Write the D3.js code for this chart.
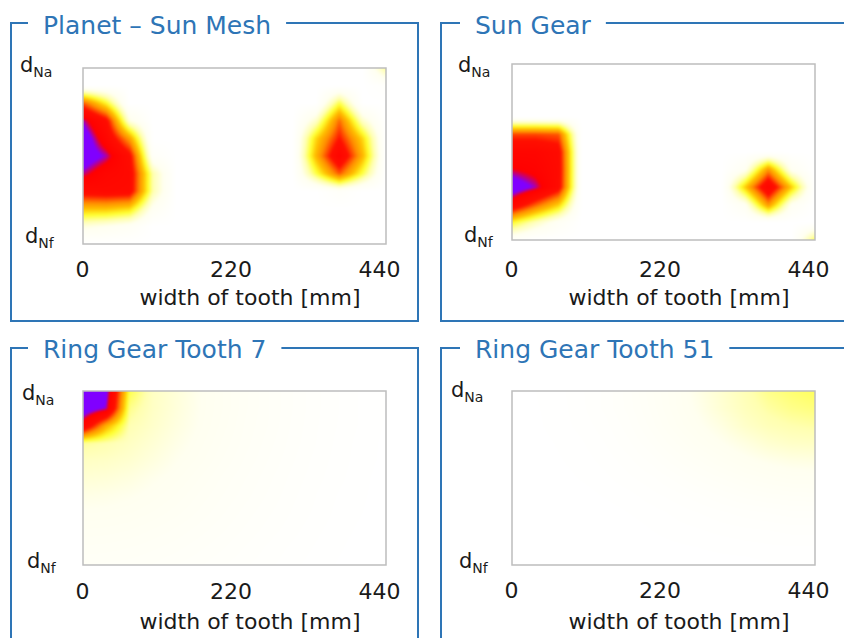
<!DOCTYPE html>
<meta charset="utf-8">
<style>
body { margin: 0; background: #fff; }
text { font-family: "DejaVu Sans", sans-serif; }
.frame { fill: none; stroke: #2e75b6; stroke-width: 2px; }
.title { fill: #2e75b6; font-size: 25px; }
.tick { font-size: 22px; fill: #1a1a1a; }
.dlab { font-size: 21px; fill: #1a1a1a; }
.plotbox { fill: none; stroke: #bdbdbd; stroke-width: 1.5px; }
</style>
<body>
<script src="https://d3js.org/d3.v7.min.js"></script>
<script>

var titles = ["Planet – Sun Mesh", "Sun Gear", "Ring Gear Tooth 7", "Ring Gear Tooth 51"];
var xTicks = [0, 220, 440];
var xLabel = "width of tooth [mm]";

// load values on a 14 x 11 grid, rows from d_Na (top) to d_Nf (bottom)
var planetSun = [
  [0,0,0,0,0,0,0,0,0,0,0,0,0,0.25],
  [0,0,0,0,0,0,0,0,0,0,0,0,0,0.03],
  [0.58,0.33,0,0,0,0,0,0,0,0,0,0.3,0,0],
  [0.9,0.7,0.14,0,0,0,0,0,0,0,0.18,0.56,0.18,0],
  [1.0,0.78,0.48,0,0,0,0,0,0,0,0.38,0.66,0.38,0],
  [1.0,0.9,0.7,0.06,0,0,0,0,0,0,0.44,0.8,0.44,0],
  [0.89,0.78,0.74,0.22,0,0,0,0,0,0,0.3,0.58,0.3,0],
  [0.72,0.74,0.73,0.22,0,0,0,0,0,0,0,0.05,0,0],
  [0.42,0.42,0.38,0.1,0,0,0,0,0,0,0,0,0,0],
  [0.15,0.12,0.08,0,0,0,0,0,0,0,0,0,0,0],
  [0,0,0,0,0,0,0,0,0,0,0,0,0,0]
];

var sunGear = [
  [0,0,0,0,0,0,0,0,0,0,0,0,0,0],
  [0,0,0,0,0,0,0,0,0,0,0,0,0,0],
  [0,0,0,0,0,0,0,0,0,0,0,0,0,0],
  [0,0,0,0,0,0,0,0,0,0,0,0,0,0],
  [0.6,0.6,0.58,0,0,0,0,0,0,0,0,0,0,0],
  [0.78,0.78,0.72,0,0,0,0,0,0,0,0,0,0,0],
  [0.86,0.82,0.73,0,0,0,0,0,0,0,0.1,0.5,0.1,0],
  [1.0,0.9,0.72,0,0,0,0,0,0,0,0.4,0.8,0.4,0],
  [0.78,0.58,0.4,0,0,0,0,0,0,0,0.1,0.5,0.1,0],
  [0.33,0.2,0.08,0,0,0,0,0,0,0,0,0,0,0],
  [0.05,0,0,0,0,0,0,0,0,0,0,0,0,0.3]
];

var ringTooth7 = [
  [1.3,0.95,0.3,0.19,0.155,0.123,0.1,0.078,0.06,0.044,0.03,0.02,0.01,0.004],
  [1.0,0.9,0.25,0.187,0.153,0.122,0.1,0.077,0.06,0.044,0.03,0.02,0.01,0.004],
  [0.8,0.45,0.215,0.178,0.146,0.119,0.096,0.074,0.059,0.042,0.029,0.019,0.01,0.003],
  [0.24,0.22,0.19,0.163,0.135,0.112,0.09,0.071,0.055,0.04,0.028,0.017,0.008,0.002],
  [0.19,0.184,0.17,0.147,0.123,0.104,0.083,0.066,0.051,0.037,0.025,0.016,0.007,0.002],
  [0.163,0.158,0.146,0.127,0.111,0.092,0.074,0.06,0.046,0.033,0.023,0.014,0.006,0],
  [0.137,0.133,0.125,0.113,0.099,0.082,0.068,0.055,0.042,0.03,0.02,0.011,0.005,0],
  [0.117,0.115,0.109,0.099,0.087,0.074,0.061,0.048,0.037,0.027,0.018,0.009,0.004,0],
  [0.099,0.097,0.092,0.083,0.074,0.064,0.053,0.042,0.032,0.023,0.014,0.007,0.002,0],
  [0.082,0.08,0.076,0.07,0.063,0.054,0.045,0.035,0.026,0.018,0.011,0.005,0,0],
  [0.068,0.066,0.064,0.059,0.052,0.045,0.037,0.029,0.022,0.014,0.008,0.003,0,0]
];

var ringTooth51 = [
  [0,0.004,0.009,0.019,0.03,0.049,0.075,0.1,0.135,0.17,0.21,0.25,0.27,0.285],
  [0,0.003,0.008,0.018,0.03,0.047,0.071,0.098,0.128,0.165,0.2,0.23,0.25,0.26],
  [0,0.002,0.008,0.015,0.025,0.041,0.064,0.09,0.116,0.143,0.18,0.206,0.22,0.228],
  [0,0,0.005,0.011,0.02,0.034,0.053,0.075,0.098,0.12,0.143,0.169,0.184,0.188],
  [0,0,0.003,0.008,0.015,0.025,0.039,0.058,0.075,0.094,0.113,0.128,0.139,0.143],
  [0,0,0,0.005,0.01,0.018,0.026,0.039,0.055,0.068,0.083,0.094,0.103,0.105],
  [0,0,0,0,0.005,0.009,0.017,0.024,0.034,0.045,0.056,0.064,0.069,0.071],
  [0,0,0,0,0,0.004,0.008,0.014,0.02,0.026,0.032,0.036,0.041,0.041],
  [0,0,0,0,0,0,0.004,0.008,0.011,0.015,0.018,0.02,0.023,0.023],
  [0,0,0,0,0,0,0,0.002,0.004,0.006,0.008,0.01,0.011,0.011],
  [0,0,0,0,0,0,0,0,0,0,0,0.003,0.004,0.004]
];

var grids = [planetSun, sunGear, ringTooth7, ringTooth51];

var color = d3.scaleLinear()
    .domain([0, 0.12, 0.22, 0.32, 0.42, 0.52, 0.66, 0.85, 0.92])
    .range(["#ffffff", "#fffff0", "#ffffb0", "#ffff30", "#ffc000", "#ff8c00", "#ff1000", "#ff0000", "#8000ff"])
    .clamp(true);

var width = 844, height = 638;

// frame: [left, top, right, bottom]; plot: [x0, y0, x1, y1]
var layout = [
  {frame: [11, 23, 418, 321], title: [43, 34], plot: [83, 68, 386, 244], na: [20, 72], nf: [25, 243], tickY: 277, labelY: 305},
  {frame: [441, 23, 850, 321], title: [475, 34], plot: [512, 64, 815, 240], na: [458, 72], nf: [464, 242], tickY: 277, labelY: 305},
  {frame: [11, 348, 418, 650], title: [43, 358], plot: [83, 391, 386, 565], na: [22, 400], nf: [27, 568], tickY: 599, labelY: 629},
  {frame: [441, 348, 850, 650], title: [475, 358], plot: [512, 391, 815, 565], na: [451, 397], nf: [459, 568], tickY: 598, labelY: 629}
];

var svg = d3.select("body").append("svg")
    .attr("width", width)
    .attr("height", height);

layout.forEach(function(p, i) {
  var g = svg.append("g");
  var grid = grids[i];
  var nRows = grid.length, nCols = grid[0].length;
  var x0 = p.plot[0], y0 = p.plot[1], x1 = p.plot[2], y1 = p.plot[3];

  var x = d3.scaleLinear().domain([0, 440]).range([x0, x1]);
  var col = d3.scaleLinear().domain([0, 440]).range([0, nCols - 1]);
  var row = d3.scaleLinear().domain([0, nRows - 1]).range([y0, y1]);

  // heat map, bilinear between grid values, padded so the soft blur keeps its edges
  var w = x1 - x0, h = y1 - y0, pad = 6;
  var big = document.createElement("canvas");
  big.width = w + 2 * pad; big.height = h + 2 * pad;
  var bctx = big.getContext("2d");
  var img = bctx.createImageData(big.width, big.height);
  for (var py = 0; py < big.height; py++) {
    var fr = Math.max(0, Math.min(nRows - 1, row.invert(y0 + py - pad + 0.5)));
    var r0 = Math.min(nRows - 2, Math.floor(fr)), tr = fr - r0;
    for (var px = 0; px < big.width; px++) {
      var fc = Math.max(0, Math.min(nCols - 1, col(x.invert(x0 + px - pad + 0.5))));
      var c0 = Math.min(nCols - 2, Math.floor(fc)), tc = fc - c0;
      var v = (grid[r0][c0] * (1 - tc) + grid[r0][c0 + 1] * tc) * (1 - tr) +
              (grid[r0 + 1][c0] * (1 - tc) + grid[r0 + 1][c0 + 1] * tc) * tr;
      var c = d3.rgb(color(v));
      var k = (py * big.width + px) * 4;
      img.data[k] = c.r; img.data[k + 1] = c.g; img.data[k + 2] = c.b; img.data[k + 3] = 255;
    }
  }
  bctx.putImageData(img, 0, 0);
  var canvas = document.createElement("canvas");
  canvas.width = w; canvas.height = h;
  var ctx = canvas.getContext("2d");
  ctx.filter = "blur(1.3px)";
  ctx.drawImage(big, -pad, -pad);

  g.append("image")
      .attr("x", x0).attr("y", y0)
      .attr("width", w).attr("height", h)
      .attr("href", canvas.toDataURL());

  g.append("rect")
      .attr("class", "plotbox")
      .attr("x", x0).attr("y", y0)
      .attr("width", w).attr("height", h);

  // tick labels
  var xa = d3.scaleLinear().domain([0, 440]).range([x0 - 1, x0 + 296]);
  g.append("g")
      .attr("transform", "translate(0," + p.tickY + ")")
      .call(d3.axisBottom(xa).tickValues(xTicks).tickSize(0).tickPadding(0))
      .call(function(a) {
        a.select(".domain").remove();
        a.selectAll("text").attr("class", "tick").attr("dy", 0)
          .attr("fill", "#1a1a1a").style("font-size", "22px")
          .style("font-family", "'DejaVu Sans', sans-serif");
      });

  g.append("text")
      .attr("class", "tick")
      .attr("x", x0 + 167).attr("y", p.labelY)
      .attr("text-anchor", "middle")
      .text(xLabel);

  [["Na", p.na], ["Nf", p.nf]].forEach(function(d) {
    var t = g.append("text").attr("class", "dlab")
        .attr("x", d[1][0]).attr("y", d[1][1]);
    t.append("tspan").text("d");
    t.append("tspan").attr("dy", 5).style("font-size", "14px").text(d[0]);
  });

  // titled frame
  var title = g.append("text")
      .attr("class", "title")
      .attr("x", p.title[0]).attr("y", p.title[1])
      .text(titles[i]);
  var tEnd = p.title[0] + title.node().getComputedTextLength() + 15;
  var f = p.frame;
  g.append("path")
      .attr("class", "frame")
      .attr("d", "M" + tEnd + "," + f[1] + "H" + f[2] + "V" + f[3] + "H" + f[0] +
                 "V" + f[1] + "H" + (p.title[0] - 15));
});

</script>
</body>
</html>
